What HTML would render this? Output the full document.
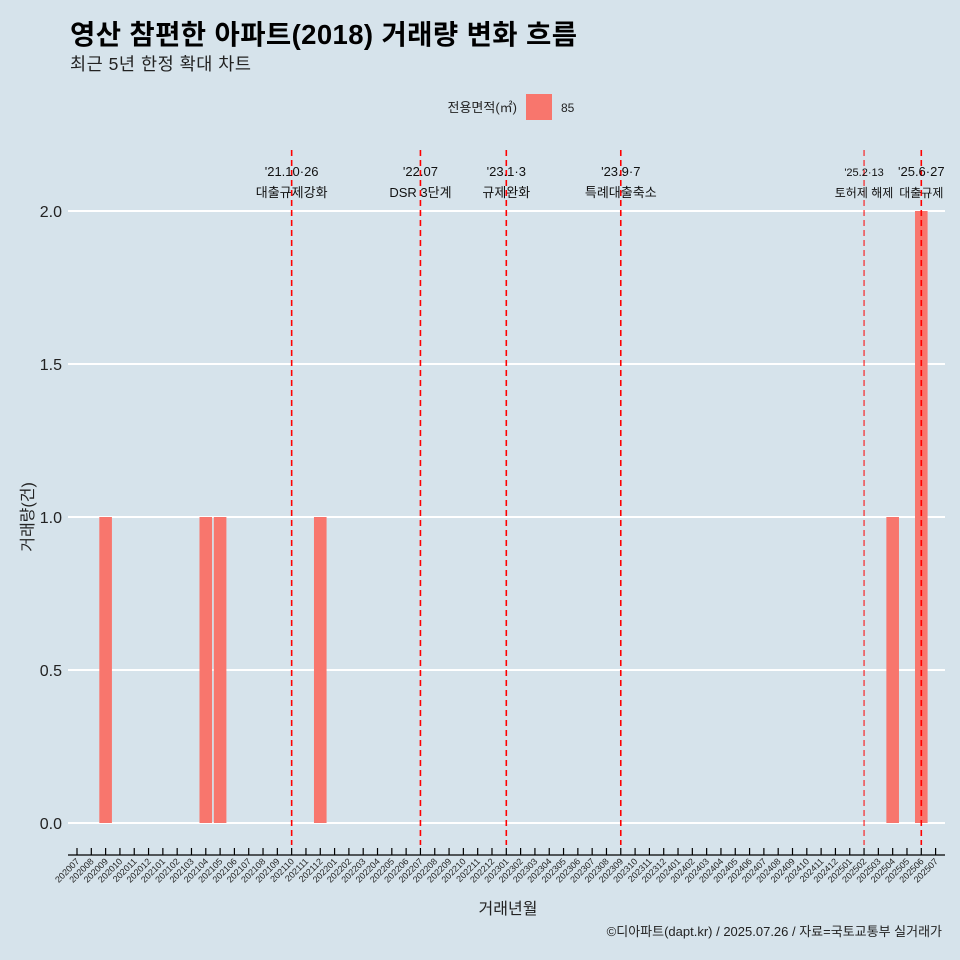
<!DOCTYPE html>
<html><head><meta charset="utf-8">
<style>
body{margin:0;background:#d6e3eb;}
svg{display:block;font-family:"Liberation Sans","Noto Sans CJK KR",sans-serif;}
</style></head>
<body>
<svg id="chart" width="960" height="960" viewBox="0 0 960 960">
<rect x="0" y="0" width="960" height="960" fill="#d6e3eb"/>
<text x="70" y="44" font-size="27.5" font-weight="bold" fill="#000" textLength="507">영산 참편한 아파트(2018) 거래량 변화 흐름</text>
<text x="70" y="70" font-size="17.5" fill="#222" textLength="181">최근 5년 한정 확대 차트</text>
<g>
<text x="517" y="112" font-size="13" text-anchor="end" fill="#222">전용면적(㎡)</text>
<rect x="526" y="94" width="26" height="26" fill="#f8766d"/>
<text x="561" y="112" font-size="12" fill="#222">85</text>
</g>
<g id="grid"></g><g id="bars"></g><g id="events"></g><g id="xaxis"></g><g id="yaxis"></g>
<text x="508" y="914" font-size="16" text-anchor="middle" fill="#222">거래년월</text>
<text transform="translate(33,517) rotate(-90)" font-size="16" text-anchor="middle" fill="#222">거래량(건)</text>
<text x="942" y="936" font-size="13" text-anchor="end" fill="#222">©디아파트(dapt.kr) / 2025.07.26 / 자료=국토교통부 실거래가</text>
</svg>
<script>
const months = [];
for (let y = 2020; y <= 2025; y++) for (let m = 1; m <= 12; m++) {
  const k = y * 100 + m; if (k >= 202007 && k <= 202507) months.push(String(k));
}
const barMonths = ["202009","202104","202105","202112","202504","202506"];
const barValues = [1,1,1,1,1,2];
const yTicks = [0,0.5,1,1.5,2];
const yTickLabels = ["0.0","0.5","1.0","1.5","2.0"];
const eventMonths = ["202110","202207","202301","202309","202502","202506"];
const eventDates = ["'21.10·26","'22.07","'23.1·3","'23.9·7","'25.2·13","'25.6·27"];
const eventTexts = ["대출규제강화","DSR 3단계","규제완화","특례대출축소","토허제 해제","대출규제"];

const NS = "http://www.w3.org/2000/svg";
const X0 = 77, STEP = 14.31, Y0 = 823, YS = 306;
const xPos = m => X0 + months.indexOf(m) * STEP;
const yPos = v => Y0 - v * YS;
function mk(tag, attrs, parent) {
  const e = document.createElementNS(NS, tag);
  for (const k in attrs) e.setAttribute(k, attrs[k]);
  parent.appendChild(e); return e;
}
const grid = document.getElementById("grid"), bars = document.getElementById("bars"),
  ev = document.getElementById("events"), xa = document.getElementById("xaxis"), ya = document.getElementById("yaxis");

yTicks.forEach((v, i) => {
  const l = mk("line", {x1: 68, x2: 945, y1: yPos(v), y2: yPos(v), stroke: "#fff", "stroke-width": 2}, grid);
  
  
  const t = mk("text", {x: 62, y: yPos(v) + 6, "font-size": 16, "text-anchor": "end", fill: "#222"}, ya);
  t.textContent = yTickLabels[i];
  
  
});

barMonths.forEach((m, i) => {
  const x = xPos(m);
  const r = mk("rect", {x: x - 6.3, y: yPos(barValues[i]), width: 12.6, height: barValues[i] * YS, fill: "#f8766d"}, bars);
  
  
});

eventMonths.forEach((m, i) => {
  const x = xPos(m);
  const l = mk("line", {x1: x, x2: x, y1: 150, y2: 845, stroke: "#ff0000", "stroke-width": i === 4 ? 1 : 1.6, "stroke-dasharray": "6,4"}, ev);
  
  
  const small = i >= 4 ? 11 : 12;
  const t1 = mk("text", {x: x, y: 176, "font-size": i === 4 ? 11 : 13, "text-anchor": "middle", fill: "#111"}, ev);
  t1.textContent = eventDates[i];
  
  
  const t2 = mk("text", {x: x, y: 197, "font-size": small + 1, "text-anchor": "middle", fill: "#111"}, ev);
  t2.textContent = eventTexts[i];
  
  
});

const ax = mk("line", {x1: 68, x2: 945, y1: 855, y2: 855, stroke: "#000", "stroke-width": 1.2}, xa);


months.forEach(m => {
  const x = xPos(m);
  const tk = mk("line", {x1: x, x2: x, y1: 848, y2: 855, stroke: "#000", "stroke-width": 1.2}, xa);
  
  
  const t = mk("text", {x: x + 3, y: 862, "font-size": 9, "text-anchor": "end", fill: "#222", transform: `rotate(-45 ${x + 3} 862)`}, xa);
  t.textContent = m;
  
  
});
</script>
</body></html>
